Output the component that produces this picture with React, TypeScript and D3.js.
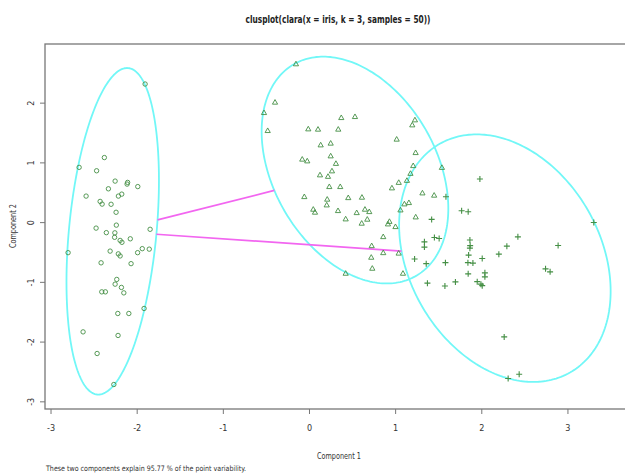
import React, { useEffect, useRef } from 'react';
import * as d3 from 'd3';

// component scores of the observations, one pair of arrays per clara cluster
const clus1X = [-1.908, -2.381, -2.674, -2.471, -2.256, -2.111, -2.117, -1.993, -2.334, -2.593, -2.179, -2.218, -2.430, -2.407, -2.303, -2.245,
  -2.242, -2.477, -1.850, -2.358, -2.259, -2.262, -2.198, -2.177, -2.080, -2.802, -2.314, -2.219, -2.198, -1.995, -1.941, -1.860,
  -2.419, -2.071, -2.237, -2.256, -2.183, -2.155, -2.411, -2.369, -1.920, -2.225, -2.097, -2.628, -2.222, -2.465, -2.271];
const clus1Y = [2.320, 1.089, 0.925, 0.868, 0.695, 0.673, 0.645, 0.603, 0.566, 0.444, 0.477, 0.444, 0.355, 0.310, 0.307, 0.173,
  -0.042, -0.092, -0.112, -0.168, -0.171, -0.246, -0.298, -0.330, -0.271, -0.503, -0.477, -0.523, -0.558, -0.503, -0.436, -0.444,
  -0.673, -0.687, -0.951, -1.030, -1.085, -1.176, -1.159, -1.159, -1.437, -1.521, -1.521, -1.829, -1.889, -2.191, -2.710];

const clus2X = [-0.157, -0.400, -0.528, -0.485, 0.369, 0.528, -0.014, 0.099, 0.334, 1.224, 1.193, 1.012, 0.130, 0.246, 1.232, -0.084,
  -0.026, 0.246, 0.307, 1.204, 1.537, 0.122, 0.261, 0.215, 1.172, 1.131, 1.036, 0.957, 0.230, 0.357, -0.060, 0.206,
  0.200, 0.450, 0.609, 1.311, 1.447, 0.044, 0.064, 0.331, 0.644, 0.694, 0.548, 1.102, 1.154, 1.056, 0.420, 0.671,
  0.606, 1.233, 0.928, 0.911, 0.998, 0.856, 0.722, 0.856, 1.035, 0.717, 0.729, 0.420, 1.085];
const clus2Y = [2.655, 2.013, 1.839, 1.538, 1.755, 1.772, 1.566, 1.561, 1.561, 1.717, 1.633, 1.394, 1.298, 1.327, 1.169, 1.059,
  1.030, 1.114, 0.988, 0.951, 0.921, 0.796, 0.863, 0.771, 0.821, 0.704, 0.670, 0.578, 0.600, 0.600, 0.432, 0.389,
  0.293, 0.415, 0.422, 0.494, 0.456, 0.221, 0.171, 0.198, 0.221, 0.181, 0.164, 0.310, 0.332, 0.209, 0.059, 0.054,
  -0.013, 0.092, 0.017, -0.025, -0.070, -0.238, -0.389, -0.506, -0.514, -0.583, -0.767, -0.851, -0.851];

const clus3X = [1.978, 1.584, 1.766, 1.842, 1.418, 3.300, 1.450, 1.505, 1.334, 1.334, 1.862, 1.865, 1.862, 2.419, 2.291, 2.886,
  1.847, 2.005, 2.198, 1.578, 1.839, 1.897, 1.355, 1.220, 2.740, 2.793, 1.842, 2.036, 2.036, 1.369, 1.694, 1.572,
  1.947, 1.990, 2.005, 2.260, 2.306, 2.434];
const clus3Y = [0.729, 0.432, 0.198, 0.181, 0.054, 0.003, -0.248, -0.265, -0.322, -0.410, -0.290, -0.385, -0.427, -0.238, -0.394, -0.382,
  -0.544, -0.600, -0.528, -0.670, -0.670, -0.678, -0.687, -0.608, -0.774, -0.824, -0.858, -0.841, -0.908, -1.013, -0.992, -1.060,
  -0.988, -1.030, -1.055, -1.913, -2.610, -2.538];

// spanning ellipses: centre and two conjugate half-axes
const ellCenter = [[-2.284, -0.145], [0.528, 0.880], [2.268, -0.595]];
const ellU = [[0.167, 2.733], [-0.368, 1.898], [-0.328, 2.072]];
const ellV = [[0.510, 0], [1.019, 0], [1.183, 0]];
// pairs of clusters joined by a segment
const joined = [[0, 1], [0, 2]];

const xTicks = [-3, -2, -1, 0, 1, 2, 3];
const yTicks = [-3, -2, -1, 0, 1, 2];

const title = 'clusplot(clara(x = iris, k = 3, samples = 50))';
const subTitle = 'These two components explain 95.77 % of the point variability.';

const FONT = '"Liberation Sans Narrow", "Arial Narrow", "DejaVu Sans Condensed", sans-serif';
const PT = '#458f45';

export default function App() {
  const ref = useRef<SVGSVGElement>(null);

  useEffect(() => {
    const left = 45, top = 44, right = 636, bottom = 409;

    const svg = d3.select(ref.current);
    svg.selectAll('*').remove();

    const x = d3.scaleLinear().domain([-3.07, 3.79]).range([left, right]);
    const y = d3.scaleLinear().domain([-3.12, 2.99]).range([bottom, top]);

    const g = svg.append('g');

    // ellipses
    const ts = d3.range(0, 2 * Math.PI + 0.001, Math.PI / 120);
    ellCenter.forEach((c, k) => {
      const u = ellU[k], v = ellV[k];
      const pts: [number, number][] = ts.map(t => [
        x(c[0] + u[0] * Math.cos(t) + v[0] * Math.sin(t)),
        y(c[1] + u[1] * Math.cos(t) + v[1] * Math.sin(t)),
      ]);
      g.append('path')
        .attr('d', d3.line()(pts))
        .attr('fill', 'none')
        .attr('stroke', '#72f7f7')
        .attr('stroke-width', 1.8);
    });

    // segments between ellipse borders along the centre line
    const hit = (k: number, dx: number, dy: number) => {
      const u = ellU[k], v = ellV[k];
      const det = u[0] * v[1] - v[0] * u[1];
      const a = (v[1] * dx - v[0] * dy) / det;
      const b = (-u[1] * dx + u[0] * dy) / det;
      return 1 / Math.sqrt(a * a + b * b);
    };
    joined.forEach(([i, j]) => {
      const ci = ellCenter[i], cj = ellCenter[j];
      const dx = cj[0] - ci[0], dy = cj[1] - ci[1];
      const si = hit(i, dx, dy), sj = hit(j, dx, dy);
      g.append('line')
        .attr('x1', x(ci[0] + si * dx)).attr('y1', y(ci[1] + si * dy))
        .attr('x2', x(cj[0] - sj * dx)).attr('y2', y(cj[1] - sj * dy))
        .attr('stroke', '#f266f0')
        .attr('stroke-width', 1.7);
    });

    // points
    g.selectAll('circle.p1').data(clus1X).enter().append('circle')
      .attr('cx', d => x(d)).attr('cy', (d, i) => y(clus1Y[i]))
      .attr('r', 2.2).attr('fill', 'none').attr('stroke', PT).attr('stroke-width', 0.9);

    const tri = 'M0,-2.8L2.6,1.8L-2.6,1.8Z';
    g.selectAll('path.p2').data(clus2X).enter().append('path')
      .attr('transform', (d, i) => `translate(${x(d)},${y(clus2Y[i])})`)
      .attr('d', tri).attr('fill', 'none').attr('stroke', PT).attr('stroke-width', 0.9);

    const plus = 'M-3,0H3M0,-3V3';
    g.selectAll('path.p3').data(clus3X).enter().append('path')
      .attr('transform', (d, i) => `translate(${x(d)},${y(clus3Y[i])})`)
      .attr('d', plus).attr('fill', 'none').attr('stroke', PT).attr('stroke-width', 1.1);

    // box
    svg.append('rect')
      .attr('x', left).attr('y', top)
      .attr('width', right - left).attr('height', bottom - top)
      .attr('fill', 'none').attr('stroke', '#777').attr('stroke-width', 1.3);

    // x axis
    const xa = svg.append('g');
    xTicks.forEach(t => {
      xa.append('line').attr('x1', x(t)).attr('x2', x(t)).attr('y1', bottom).attr('y2', bottom + 5)
        .attr('stroke', '#777');
      xa.append('text').attr('x', x(t)).attr('y', 431)
        .attr('text-anchor', 'middle').attr('font-size', 9).attr('font-family', FONT).attr('fill', '#333')
        .text(String(t));
    });

    // y axis
    const ya = svg.append('g');
    yTicks.forEach(t => {
      ya.append('line').attr('x1', left - 5).attr('x2', left).attr('y1', y(t)).attr('y2', y(t))
        .attr('stroke', '#777');
      ya.append('text')
        .attr('transform', `translate(34,${y(t)}) rotate(-90)`)
        .attr('text-anchor', 'middle').attr('font-size', 9).attr('font-family', FONT).attr('fill', '#333')
        .text(String(t));
    });

    svg.append('text').attr('x', 338).attr('y', 23)
      .attr('text-anchor', 'middle').attr('font-size', 11).attr('font-weight', 'bold')
      .attr('font-family', FONT).attr('fill', '#222')
      .attr('textLength', 185).attr('lengthAdjust', 'spacingAndGlyphs')
      .text(title);

    svg.append('text').attr('x', 339).attr('y', 459)
      .attr('text-anchor', 'middle').attr('font-size', 9).attr('font-family', FONT).attr('fill', '#333')
      .attr('textLength', 44).attr('lengthAdjust', 'spacingAndGlyphs')
      .text('Component 1');

    svg.append('text')
      .attr('transform', `translate(16,226) rotate(-90)`)
      .attr('text-anchor', 'middle').attr('font-size', 9).attr('font-family', FONT).attr('fill', '#333')
      .attr('textLength', 44).attr('lengthAdjust', 'spacingAndGlyphs')
      .text('Component 2');

    svg.append('text').attr('x', 46).attr('y', 471)
      .attr('font-size', 7.5).attr('font-family', FONT).attr('fill', '#333')
      .attr('textLength', 200).attr('lengthAdjust', 'spacingAndGlyphs')
      .text(subTitle);
  }, []);

  return (
    <div style={{ position: 'absolute', left: 0, top: 0, background: '#fff' }}>
      <svg ref={ref} width={625} height={473} style={{ display: 'block' }} />
    </div>
  );
}
